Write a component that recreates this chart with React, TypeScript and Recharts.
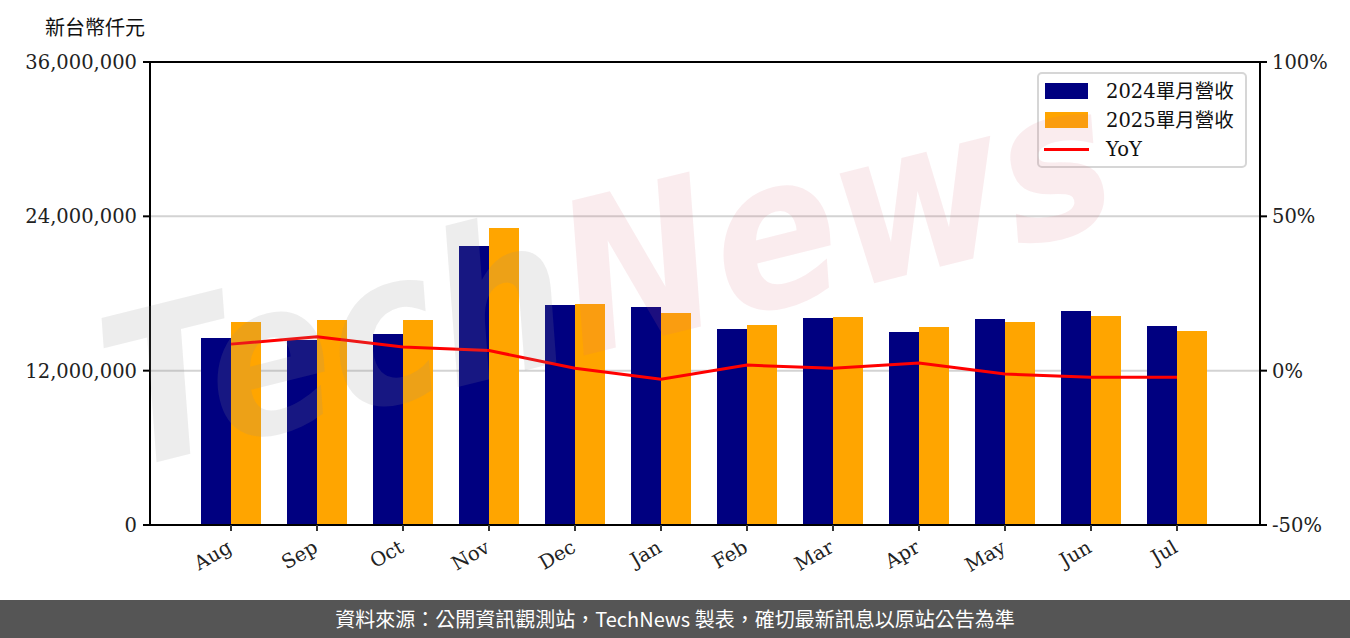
import React from "react";
import {
  ComposedChart,
  Bar,
  Line,
  XAxis,
  YAxis,
  CartesianGrid,
  ReferenceLine,
} from "recharts";

const months = ["Aug", "Sep", "Oct", "Nov", "Dec", "Jan", "Feb", "Mar", "Apr", "May", "Jun", "Jul"];
const rev2024 = [14540000, 14380000, 14850000, 21690000, 17110000, 16950000, 15240000, 16090000, 15010000, 16020000, 16640000, 15470000];
const rev2025 = [15780000, 15940000, 15940000, 23090000, 17180000, 16480000, 15550000, 16170000, 15400000, 15780000, 16250000, 15080000];
const yoy = [8.6, 11.0, 7.7, 6.5, 0.8, -2.8, 1.8, 0.8, 2.5, -1.1, -2.1, -2.1];
const leftTicks = [0, 12000000, 24000000, 36000000];
const rightTicks = [-50, 0, 50, 100];
const legendLabels = ["2024單月營收", "2025單月營收", "YoY"];

const data = months.map((m, i) => ({ month: m, a: rev2024[i], b: rev2025[i], yoy: yoy[i] }));

const FONT = "'DejaVu Serif', 'Noto Sans CJK TC', serif";
const NAVY = "#000080";
const ORANGE = "#FFA500";
const RED = "#FF0000";

const XTick = (props: any) => {
  const { x, y, payload } = props;
  return (
    <g transform={`translate(${x - 5},${y + 6}) rotate(-30)`}>
      <text textAnchor="end" dy={14} fontFamily={FONT} fontSize={19.5} fill="#222">
        {payload.value}
      </text>
    </g>
  );
};

const LegendBox = () => {
  const rows = [
    { label: legendLabels[0], kind: "rect", color: NAVY },
    { label: legendLabels[1], kind: "rect", color: ORANGE },
    { label: legendLabels[2], kind: "line", color: RED },
  ];
  return (
    <div
      style={{
        position: "absolute",
        left: 1037,
        top: 72,
        width: 206,
        height: 92,
        border: "2px solid #d6d6d6",
        borderRadius: 5,
        background: "rgba(255,255,255,0.85)",
      }}
    >
      {rows.map((r, i) => (
        <div key={r.label} style={{ position: "absolute", left: 0, top: 5 + i * 29, height: 26, width: 206 }}>
          {r.kind === "rect" ? (
            <div style={{ position: "absolute", left: 6, top: 4, width: 43, height: 16, background: r.color }} />
          ) : (
            <div style={{ position: "absolute", left: 5, top: 11, width: 45, height: 3, background: r.color }} />
          )}
          <div
            style={{
              position: "absolute",
              left: 67,
              top: 0,
              fontFamily: FONT,
              fontSize: 19.5,
              lineHeight: "26px",
              color: "#111",
              whiteSpace: "nowrap",
            }}
          >
            {r.label}
          </div>
        </div>
      ))}
    </div>
  );
};

export default function App() {
  return (
    <div style={{ position: "absolute", left: 0, top: 0, width: 1350, height: 638, background: "#fff", overflow: "hidden" }}>
      <div
        style={{
          position: "absolute",
          left: 45,
          top: 13,
          fontFamily: "'Noto Sans CJK TC', sans-serif",
          fontSize: 20,
          lineHeight: "28px",
          color: "#111",
        }}
      >
        新台幣仟元
      </div>
      <ComposedChart
        width={1350}
        height={600}
        data={data}
        margin={{ top: 62, right: 10, bottom: 15, left: 10 }}
        barGap={0}
      >
        <CartesianGrid vertical={false} stroke="#d3d3d3" strokeWidth={2} yAxisId="left" />
        <XAxis
          dataKey="month"
          height={60}
          padding={{ left: 38, right: 40 }}
          interval={0}
          tick={<XTick />}
          tickLine={{ stroke: "#333", strokeWidth: 2 }}
          tickSize={6}
          axisLine={{ stroke: "#000", strokeWidth: 2 }}
        />
        <YAxis
          yAxisId="left"
          width={140}
          domain={[0, 36000000]}
          ticks={leftTicks}
          interval={0}
          tickFormatter={(v: number) => v.toLocaleString("en-US")}
          tick={{ fontFamily: FONT, fontSize: 19.5, fill: "#222", dx: -4 }}
          tickLine={{ stroke: "#000", strokeWidth: 2 }}
          tickSize={7}
          axisLine={{ stroke: "#000", strokeWidth: 2 }}
        />
        <YAxis
          yAxisId="right"
          orientation="right"
          width={80}
          domain={[-50, 100]}
          ticks={rightTicks}
          interval={0}
          tickFormatter={(v: number) => `${v}%`}
          tick={{ fontFamily: FONT, fontSize: 19.5, fill: "#222", dx: 3 }}
          tickLine={{ stroke: "#000", strokeWidth: 2 }}
          tickSize={7}
          axisLine={{ stroke: "#000", strokeWidth: 2 }}
        />
        <ReferenceLine yAxisId="left" y={36000000} stroke="#000" strokeWidth={2} />
        <Bar yAxisId="left" dataKey="a" name={legendLabels[0]} fill={NAVY} barSize={30} isAnimationActive={false} />
        <Bar yAxisId="left" dataKey="b" name={legendLabels[1]} fill={ORANGE} barSize={30} isAnimationActive={false} />
        <Line
          yAxisId="right"
          dataKey="yoy"
          name={legendLabels[2]}
          type="linear"
          stroke={RED}
          strokeWidth={3}
          dot={false}
          isAnimationActive={false}
        />
      </ComposedChart>
      <LegendBox />
      <svg
        width={1350}
        height={600}
        style={{ position: "absolute", left: 0, top: 0, pointerEvents: "none" }}
      >
        <text
          x={125}
          y={470}
          transform="rotate(-14 125 470)"
          fontFamily="'DejaVu Sans', sans-serif"
          fontStyle="italic"
          fontWeight="bold"
          fontSize={210}
          textLength={1030}
          lengthAdjust="spacingAndGlyphs"
        >
          <tspan fill="#8c8c8c" fillOpacity={0.16}>Tech</tspan>
          <tspan fill="#d8707f" fillOpacity={0.13}>News</tspan>
        </text>
      </svg>
      <div
        style={{
          position: "absolute",
          left: 0,
          top: 600,
          width: 1350,
          height: 38,
          background: "#555555",
          color: "#fff",
          textAlign: "center",
          fontFamily: "'Noto Sans CJK TC', sans-serif",
          fontSize: 20,
          lineHeight: "38px",
        }}
      >
        資料來源：公開資訊觀測站，TechNews 製表，確切最新訊息以原站公告為準
      </div>
    </div>
  );
}
